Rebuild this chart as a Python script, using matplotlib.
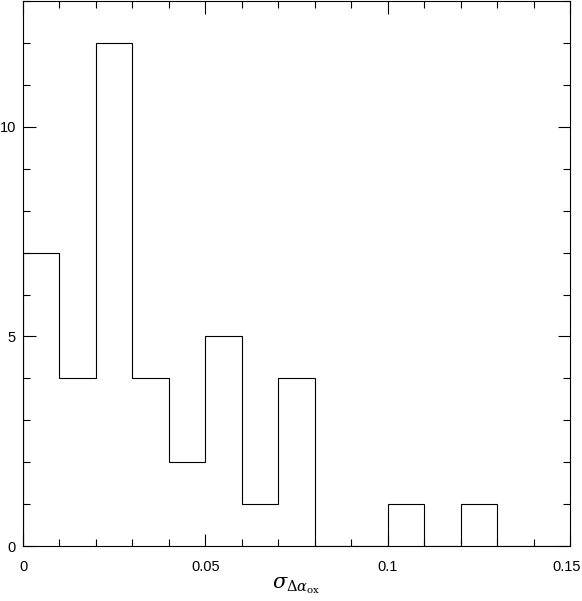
import matplotlib
matplotlib.use("Agg")
import matplotlib.pyplot as plt
import matplotlib.transforms as mtransforms
import numpy as np
from matplotlib.ticker import MultipleLocator

plt.rcParams["font.family"] = ["Liberation Sans", "DejaVu Sans"]
plt.rcParams["mathtext.fontset"] = "dejavuserif"

# histogram of sigma(delta alpha_ox), bin width 0.01
bin_edges = np.round(np.arange(0, 0.151, 0.01), 2)
counts = [7, 4, 12, 4, 2, 5, 1, 4, 0, 0, 1, 0, 1, 0, 0]
xtick_vals = [0, 0.05, 0.1, 0.15]
xtick_labels = ["0", "0.05", "0.1", "0.15"]

fig = plt.figure(figsize=(5.82, 6.01), dpi=100)
ax = fig.add_axes([23 / 582, 1 - 546 / 601, (570 - 23) / 582, 546 / 601 - 0.002])

ax.stairs(counts, bin_edges, color="black", lw=0.8)

ax.set_xlim(0, 0.15)
ax.set_ylim(0, 13)
ax.xaxis.set_major_locator(MultipleLocator(0.05))
ax.xaxis.set_minor_locator(MultipleLocator(0.01))
ax.yaxis.set_major_locator(MultipleLocator(5))
ax.yaxis.set_minor_locator(MultipleLocator(1))
ax.set_xticks(xtick_vals, xtick_labels)
ax.tick_params(which="both", direction="in", top=True, right=True,
               labelsize=10.5, width=0.8)
ax.tick_params(which="major", length=9)
ax.tick_params(axis="x", which="major", pad=10)
ax.tick_params(axis="y", which="major", pad=5)
ax.tick_params(which="minor", length=5)
for s in ax.spines.values():
    s.set_linewidth(0.8)

# last x label sits right at the figure edge, nudge it in a little
last = ax.get_xticklabels()[-1]
last.set_transform(last.get_transform() + mtransforms.ScaledTranslation(-3 / 100, 0, fig.dpi_scale_trans))

ax.set_xlabel(r"$\sigma_{\Delta\alpha_{\rm ox}}$", fontsize=15, labelpad=1)

fig.savefig("out.png", dpi=100)
